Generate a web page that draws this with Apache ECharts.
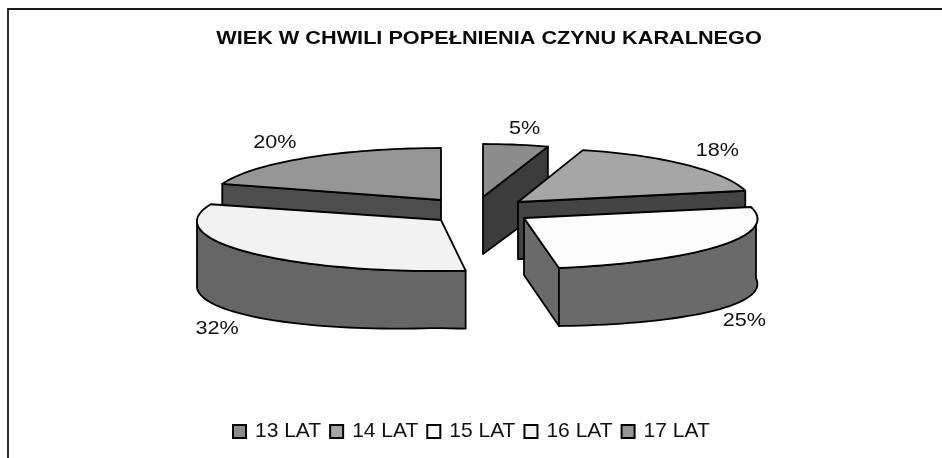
<!DOCTYPE html>
<html><head><meta charset="utf-8">
<style>html,body{margin:0;padding:0;background:#fff}#c{width:942px;height:458px}</style>
<script src="https://cdn.jsdelivr.net/npm/echarts@6/dist/echarts.min.js"></script>
</head><body><div id="c"></div>
<script>
const titleText = 'WIEK W CHWILI POPEŁNIENIA CZYNU KARALNEGO';
const categories = ['13 LAT', '14 LAT', '15 LAT', '16 LAT', '17 LAT'];
const values = [5, 18, 25, 32, 20];
const topColors = ['#8c8c8c', '#a6a6a6', '#fcfcfc', '#f2f2f2', '#969696'];
const wallColors = ['#3c3c3c', '#444444', '#6a6a6a', '#666666', '#4d4d4d'];
const drawOrder = [1, 3, 5, 4, 2];
// exploded-slice projection: apex, radii, perspective, tilt, shear
const apexX = [483, 518, 524, 441, 441];
const apexY = [197, 202, 218, 220, 200];
const radX = [232, 232, 232, 244, 230];
const radY = [53, 53, 51, 51, 52];
const persp = [0.1, 0.1, 0.1, 0, 0];
const tilt = [0, 0.02, 0.02, 0, 0];
const shear = [0, 0, -3, 6, 0];
const labelDX = [9, 32, 24, -32, -31];
const labelDY = [-16, -14, 75, 77, -15];

const total = values.reduce((a, b) => a + b, 0);
const starts = [];
values.reduce((acc, v, i) => { starts[i] = acc; return acc + v; }, 0);
const rad = d => d * Math.PI / 180;

function point(i, deg) {
  const t = rad(deg), s = Math.sin(t), c = Math.cos(t);
  return [
    apexX[i] + radX[i] * s * (1 - persp[i] * c) + shear[i] * c,
    apexY[i] - radY[i] * c - tilt[i] * radX[i] * s
  ];
}
const depthAt = deg => 57 + 8 * Math.abs(Math.sin(rad(deg)));
const down = (p, deg) => [p[0], p[1] + depthAt(deg)];

function renderSlice(params, api) {
  const i = params.seriesIndex;
  const value = api.value(0);
  const a0 = starts[i] / total * 360;
  const a1 = a0 + value / total * 360;
  const stroke = { stroke: '#000', lineWidth: 1.8, lineJoin: 'round' };
  const children = [];
  const apex = [apexX[i], apexY[i]];
  const apexLow = [apexX[i], apexY[i] + 57];
  const radial = deg => {
    const r = point(i, deg);
    children.push({ type: 'polygon', shape: { points: [apex, r, down(r, deg), apexLow] },
      style: Object.assign({ fill: wallColors[i] }, stroke) });
  };
  if (a0 > 180 && a0 < 360) radial(a0);
  if (a1 > 0 && a1 < 180) radial(a1);
  const from = Math.max(a0, 90), to = Math.min(a1, 270);
  if (to > from) {
    const upper = [], lower = [];
    for (let d = from; d < to; d += 2) { upper.push(point(i, d)); lower.push(down(point(i, d), d)); }
    upper.push(point(i, to)); lower.push(down(point(i, to), to));
    children.push({ type: 'polygon', shape: { points: upper.concat(lower.reverse()) },
      style: Object.assign({ fill: wallColors[i] }, stroke) });
  }
  const top = [apex];
  for (let d = a0; d < a1; d += 2) top.push(point(i, d));
  top.push(point(i, a1));
  children.push({ type: 'polygon', shape: { points: top },
    style: Object.assign({ fill: topColors[i] }, stroke) });
  const mid = point(i, (a0 + a1) / 2);
  children.push({ type: 'text', x: mid[0] + labelDX[i], y: mid[1] + labelDY[i], scaleX: 1.2,
    style: { text: value + '%', fill: '#111', fontFamily: 'Liberation Sans', fontSize: 18, align: 'center', verticalAlign: 'middle' } });
  return { type: 'group', children };
}

const chart = echarts.init(document.getElementById('c'), null, { renderer: 'canvas' });
chart.setOption({
  animation: false,
  backgroundColor: '#fff',
  legend: {
    data: categories, left: 232, top: 421, padding: 0, icon: 'rect',
    itemWidth: 13, itemHeight: 13, itemGap: 8,
    textStyle: { fontFamily: 'Liberation Sans', fontSize: 21, color: '#111', padding: [0, 0, 0, 4] },
    selectedMode: false
  },
  graphic: [{
    type: 'rect', z: -1, silent: true,
    shape: { x: 8, y: 9, width: 1000, height: 1000 },
    style: { fill: 'none', stroke: '#1a1a1a', lineWidth: 1.8 }
  }, {
    type: 'text', silent: true, x: 489, y: 39, scaleX: 1.16,
    style: { text: titleText, fontFamily: 'Liberation Sans', fontWeight: 'bold', fontSize: 18.7, fill: '#0a0a0a', align: 'center', verticalAlign: 'middle' }
  }],
  series: categories.map((name, i) => ({
    type: 'custom', name, z: 2 + drawOrder[i], coordinateSystem: 'none',
    renderItem: renderSlice,
    data: [[values[i]]],
    itemStyle: { color: topColors[i], borderColor: '#000', borderWidth: 1.5 }
  }))
});
</script></body></html>
